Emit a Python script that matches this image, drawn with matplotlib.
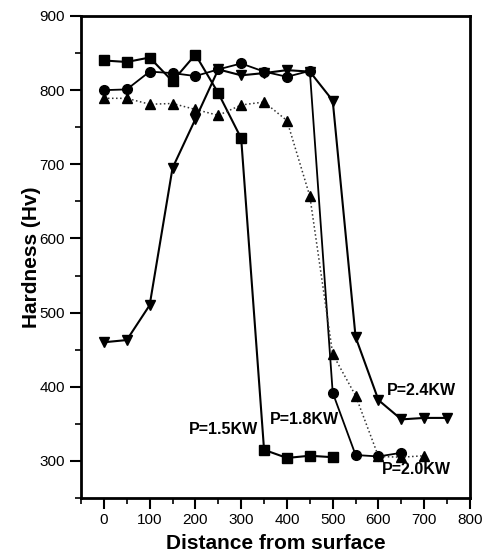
import matplotlib
matplotlib.use("Agg")
import matplotlib.pyplot as plt
from matplotlib.ticker import MultipleLocator

plt.rcParams['font.family'] = ['Liberation Sans', 'DejaVu Sans']

# P=1.5KW (squares)
x_15 = [0, 50, 100, 150, 200, 250, 300, 350, 400, 450, 500]
y_15 = [840, 838, 844, 812, 848, 796, 735, 315, 304, 307, 305]
# P=1.8KW (circles)
x_18 = [0, 50, 100, 150, 200, 250, 300, 350, 400, 450, 500, 550, 600, 650]
y_18 = [800, 801, 825, 823, 819, 828, 836, 825, 818, 826, 392, 308, 306, 311]
# P=2.0KW (up triangles, dotted)
x_20 = [0, 50, 100, 150, 200, 250, 300, 350, 400, 450, 500, 550, 600, 650, 700]
y_20 = [789, 789, 781, 782, 774, 766, 780, 784, 759, 657, 444, 388, 306, 305, 307]
# P=2.4KW (down triangles)
x_24 = [0, 50, 100, 150, 200, 250, 300, 350, 400, 450, 500, 550, 600, 650, 700, 750]
y_24 = [460, 463, 510, 695, 761, 828, 820, 823, 827, 825, 786, 467, 382, 356, 358, 358]

labels = ["P=1.5KW", "P=1.8KW", "P=2.0KW", "P=2.4KW"]
x_ticks = [0, 100, 200, 300, 400, 500, 600, 700, 800]
y_ticks = [300, 400, 500, 600, 700, 800, 900]

fig = plt.figure(figsize=(4.83, 5.58), dpi=100)
ax = fig.add_axes([81/483, 1-498/558, (470-81)/483, (498-16)/558])

ax.plot(x_15, y_15, '-', color='black', lw=1.5, marker='s', ms=6.5, zorder=3)
ax.plot(x_18, y_18, '-', color='black', lw=1.3, marker='o', ms=7, zorder=3)
ax.plot(x_20, y_20, ':', color='#333333', lw=1.1, marker='^', ms=6.5,
        markerfacecolor='black', markeredgecolor='black', zorder=3)
ax.plot(x_24, y_24, '-', color='black', lw=1.5, marker='v', ms=7.5, zorder=3)

fs_lab = 11.5
ax.text(337, 342, labels[0], ha='right', va='center', fontsize=fs_lab, fontweight='bold')
ax.text(363, 356, labels[1], ha='left', va='center', fontsize=fs_lab, fontweight='bold')
ax.text(608, 289, labels[2], ha='left', va='center', fontsize=fs_lab, fontweight='bold')
ax.text(618, 395, labels[3], ha='left', va='center', fontsize=fs_lab, fontweight='bold')

ax.set_xlim(-50, 800)
ax.set_ylim(250, 900)
ax.set_xticks(x_ticks)
ax.set_yticks(y_ticks)
ax.xaxis.set_minor_locator(MultipleLocator(50))
ax.yaxis.set_minor_locator(MultipleLocator(50))
ax.tick_params(axis='both', which='major', direction='out', length=8, width=1.5,
               labelsize=11, top=False, right=False)
ax.tick_params(axis='x', which='major', pad=3)
ax.tick_params(axis='both', which='minor', direction='out', length=4, width=1.2,
               top=False, right=False)
for s in ax.spines.values():
    s.set_linewidth(2)

ax.set_xlabel("Distance from surface", fontsize=15, fontweight='bold', labelpad=5)
ax.set_ylabel("Hardness (Hv)", fontsize=15, fontweight='bold', labelpad=-1)

fig.savefig("out.png", dpi=100)
